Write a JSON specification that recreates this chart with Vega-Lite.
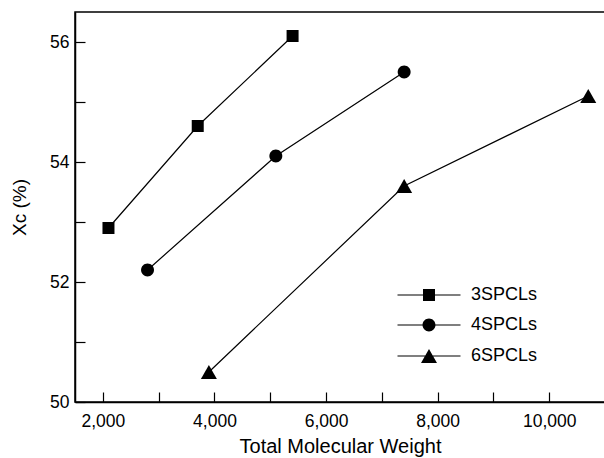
{
  "$schema": "https://vega.github.io/schema/vega-lite/v6.json",
  "width": 530,
  "height": 390,
  "autosize": "none",
  "padding": {"left": 75, "top": 12, "right": 0, "bottom": 56},
  "background": "white",
  "config": {
    "font": "Liberation Sans",
    "view": {"stroke": "black", "strokeWidth": 1.5},
    "axis": {
      "grid": false,
      "domainColor": "black",
      "domainWidth": 1.5,
      "tickColor": "black",
      "tickWidth": 1.2,
      "labelColor": "black",
      "titleColor": "black",
      "labelFont": "Liberation Sans",
      "titleFont": "Liberation Sans",
      "labelFontSize": 17.5,
      "titleFontWeight": "normal",
      "titleFontSize": 20
    },
    "legend": {
      "labelFont": "Liberation Sans",
      "labelFontSize": 18,
      "labelColor": "black"
    }
  },
  "data": {
    "values": [
      {"series": "3SPCLs", "mw": 2100, "xc": 52.9},
      {"series": "3SPCLs", "mw": 3700, "xc": 54.6},
      {"series": "3SPCLs", "mw": 5400, "xc": 56.1},
      {"series": "4SPCLs", "mw": 2800, "xc": 52.2},
      {"series": "4SPCLs", "mw": 5100, "xc": 54.1},
      {"series": "4SPCLs", "mw": 7400, "xc": 55.5},
      {"series": "6SPCLs", "mw": 3900, "xc": 50.5},
      {"series": "6SPCLs", "mw": 7400, "xc": 53.6},
      {"series": "6SPCLs", "mw": 10700, "xc": 55.1}
    ]
  },
  "encoding": {
    "x": {
      "field": "mw",
      "type": "quantitative",
      "scale": {"domain": [1500, 11000], "nice": false, "zero": false},
      "axis": {
        "title": "Total Molecular Weight",
        "values": [2000, 3000, 4000, 5000, 6000, 7000, 8000, 9000, 10000],
        "labelExpr": "datum.value % 2000 === 0 ? format(datum.value, ',') : ''",
        "tickSize": -10,
        "ticks": true,
        "labelPadding": 20,
        "titlePadding": 7,
        "labelFlush": false,
        "labelOverlap": false,
        "encode": {"ticks": {"update": {"y2": {"signal": "datum.value % 2000 === 0 ? -10 : -5"}}}}
      }
    },
    "y": {
      "field": "xc",
      "type": "quantitative",
      "scale": {"domain": [50, 56.5], "nice": false, "zero": false},
      "axis": {
        "title": "Xᴄ (%)",
        "values": [50, 51, 52, 53, 54, 55, 56],
        "labelExpr": "datum.value % 2 === 0 ? datum.label : ''",
        "tickSize": -10,
        "ticks": true,
        "labelPadding": 16,
        "titlePadding": 20,
        "titleFontSize": 19,
        "labelFlush": false,
        "labelOverlap": false,
        "encode": {"ticks": {"update": {"x2": {"signal": "datum.value % 2 === 0 ? 10 : 6"}}}}
      }
    }
  },
  "layer": [
    {
      "mark": {"type": "line", "color": "black", "strokeWidth": 1.2},
      "encoding": {"detail": {"field": "series", "type": "nominal"}}
    },
    {
      "mark": {"type": "point", "filled": true, "color": "black", "opacity": 1, "strokeWidth": 0, "size": 144},
      "encoding": {
        "shape": {
          "field": "series",
          "type": "nominal",
          "scale": {
            "domain": ["3SPCLs", "4SPCLs", "6SPCLs"],
            "range": [
              "M-1,-1H1V1H-1Z",
              "M-1.08,0A1.08,1.08,0,1,1,1.08,0A1.08,1.08,0,1,1,-1.08,0Z",
              "M0,-1.155L1.333,1.155L-1.333,1.155Z"
            ]
          },
          "legend": null
        }
      }
    },
    {
      "mark": {"type": "point", "filled": true, "color": "black", "opacity": 0, "strokeWidth": 0, "size": 144},
      "encoding": {
        "shape": {
          "field": "series",
          "type": "nominal",
          "scale": {
            "domain": ["3SPCLs", "4SPCLs", "6SPCLs"],
            "range": [
              "M-5.25,-0.1H5.25V0.1H-5.25Z M-1,-1H1V1H-1Z",
              "M-5.25,-0.1H5.25V0.1H-5.25Z M-1.08,0A1.08,1.08,0,1,1,1.08,0A1.08,1.08,0,1,1,-1.08,0Z",
              "M-5.25,-0.1H5.25V0.1H-5.25Z M0,-1.155L1.333,1.155L-1.333,1.155Z"
            ]
          },
          "legend": {
            "title": null,
            "orient": "none",
            "legendX": 345,
            "legendY": 274,
            "padding": 0,
            "symbolSize": 144,
            "labelOffset": 33,
            "rowPadding": 11,
            "encode": {
              "symbols": {
                "update": {
                  "opacity": {"value": 1},
                  "fill": {"value": "black"},
                  "fillOpacity": {"value": 1},
                  "strokeWidth": {"value": 0}
                }
              }
            }
          }
        }
      }
    }
  ],
  "resolve": {"scale": {"shape": "independent"}, "legend": {"shape": "independent"}}
}
